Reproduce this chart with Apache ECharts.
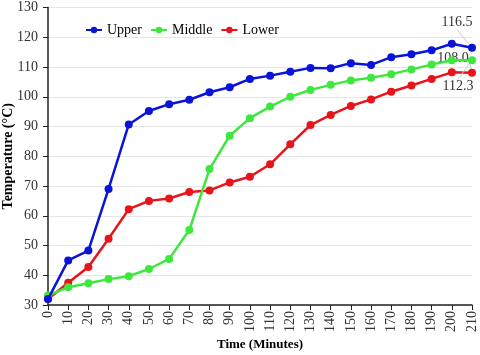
<!DOCTYPE html>
<html><head><meta charset="utf-8">
<script src="https://cdn.jsdelivr.net/npm/echarts@6/dist/echarts.min.js"></script>
<style>html,body{margin:0;padding:0;background:#fff}#c{width:480px;height:355px}</style>
</head><body><div id="c"></div>
<script>
var times = [0,10,20,30,40,50,60,70,80,90,100,110,120,130,140,150,160,170,180,190,200,210];
var upper = [32,45,48.3,69,90.7,95.2,97.5,99,101.5,103.2,106,107.1,108.4,109.7,109.6,111.3,110.7,113.3,114.3,115.6,117.8,116.5];
var middle = [33.2,36,37.3,38.7,39.7,42.1,45.5,55.2,75.7,86.9,92.8,96.7,100,102.3,104,105.5,106.4,107.6,109.2,110.8,112.3,112.3];
var lower = [32,37.5,42.8,52.3,62.2,65,65.8,68,68.5,71.2,73.1,77.3,84,90.5,93.9,96.9,99.1,101.7,103.8,106,108.2,108.1];
var endLabels = {Upper:'116.5', Middle:'112.3', Lower:'108.0'};
var endShift = {Upper:[-15,-25], Middle:[-14,26], Lower:[-19,-14]};
var SERIF = '"Liberation Serif", "DejaVu Serif", serif';

function mk(name, vals, color){
  var n = vals.length;
  return {
    name: name, type: 'line',
    data: vals.map(function(v,i){
      var d = {value:[times[i], v]};
      if(i===n-1){ d.label = {show:true, formatter:endLabels[name]}; }
      return d;
    }),
    symbol:'circle', symbolSize:8,
    lineStyle:{width:2.5, color:color},
    itemStyle:{color:color},
    label:{show:false, position:'inside', fontFamily:SERIF, fontSize:14, color:'#333'},
    labelLayout:{dx:endShift[name][0], dy:endShift[name][1]},
    labelLine:{show:true, lineStyle:{color:'#ccc', width:1}},
    z: name==='Upper'?3:(name==='Middle'?2:1)
  };
}
var chart = echarts.init(document.getElementById('c'));
chart.setOption({
  animation:false,
  grid:{left:48, right:8, top:7.5, bottom:50, containLabel:false, outerBoundsMode:'none'},
  legend:{
    data:['Upper','Middle','Lower'], left:80, top:18, itemWidth:16, itemHeight:8, itemGap:8,
    textStyle:{fontFamily:SERIF, fontSize:14, color:'#000'}
  },
  xAxis:{
    type:'value', min:0, max:210, interval:10,
    name:'Time (Minutes)', nameLocation:'middle', nameGap:33, nameMoveOverlap:false,
    nameTextStyle:{fontFamily:SERIF, fontSize:13, fontWeight:'bold', color:'#000'},
    axisLine:{lineStyle:{color:'#222', width:1.5}},
    axisTick:{show:true, length:5, lineStyle:{color:'#222'}},
    axisLabel:{rotate:90, fontFamily:SERIF, fontSize:14, color:'#333', margin:6},
    splitLine:{show:false}
  },
  yAxis:{
    type:'value', min:30, max:130, interval:10,
    name:'Temperature (°C)', nameLocation:'middle', nameGap:33, nameMoveOverlap:false,
    nameTextStyle:{fontFamily:SERIF, fontSize:14, fontWeight:'bold', color:'#000'},
    axisLine:{show:true, lineStyle:{color:'#222', width:1.5}},
    axisTick:{show:true, length:5, lineStyle:{color:'#222'}},
    axisLabel:{fontFamily:SERIF, fontSize:14, color:'#333', margin:10},
    splitLine:{lineStyle:{color:'#e6e6e6'}}
  },
  series:[mk('Upper', upper, '#0a14d8'), mk('Middle', middle, '#3ce83c'), mk('Lower', lower, '#e8141a')]
});
</script></body></html>
